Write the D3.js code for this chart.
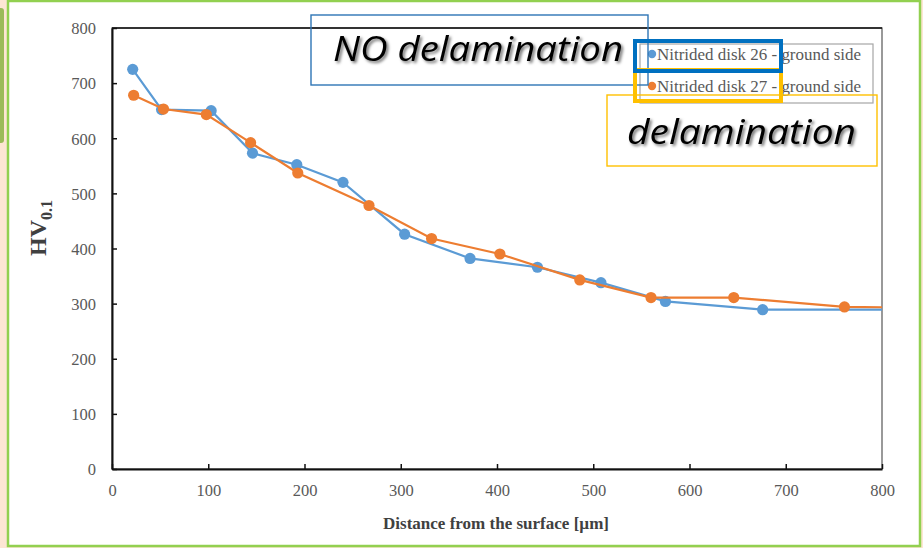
<!DOCTYPE html>
<html>
<head>
<meta charset="utf-8">
<script src="https://cdn.jsdelivr.net/npm/d3@7/dist/d3.min.js"></script>
<style>
  html, body { margin: 0; padding: 0; background: #fde6d4; }
  svg { display: block; }
</style>
</head>
<body>
<svg id="chart" width="923" height="548"></svg>
<script>
// Micro-hardness profiles (HV0.1) versus depth below the surface
const depth26 = [21.5, 51.5, 103, 146, 192, 240, 304, 372, 442, 508, 575, 676, 830];
const hv26    = [725, 652, 650, 573, 552, 520, 426, 382, 366, 338, 304, 289, 289];
const depth27 = [22.5, 53.5, 98, 144, 193, 267, 332, 403, 486, 560, 646, 761, 830];
const hv27    = [678, 653, 643, 592, 537, 478, 418, 390, 343, 311, 311, 294, 293];
const seriesNames = ["Nitrided disk 26 - ground side", "Nitrided disk 27 - ground side"];
const xTicks = [0, 100, 200, 300, 400, 500, 600, 700, 800];
const yTicks = [0, 100, 200, 300, 400, 500, 600, 700, 800];

const svg = d3.select("#chart");
const colors = ["#5b9bd5", "#ed7d31"];

// Slide panel
svg.append("rect").attr("x", 8).attr("y", 1).attr("width", 912).attr("height", 545)
  .attr("fill", "#ffffff").attr("stroke", "#92d050").attr("stroke-width", 2.5);
svg.append("rect").attr("x", -4).attr("y", 8).attr("width", 8).attr("height", 135)
  .attr("rx", 3).attr("fill", "#9bbb59");

const plot = { left: 112, right: 882, top: 28, bottom: 469 };
const x = d3.scaleLinear().domain([0, 800]).range([plot.left, plot.right]);
const y = d3.scaleLinear().domain([0, 800]).range([plot.bottom, plot.top]);

const defs = svg.append("defs");
defs.append("clipPath").attr("id", "plotClip").append("rect")
  .attr("x", plot.left).attr("y", plot.top - 10)
  .attr("width", plot.right - plot.left).attr("height", plot.bottom - plot.top + 10);
const shadow = defs.append("filter").attr("id", "txtShadow")
  .attr("x", "-10%").attr("y", "-20%").attr("width", "120%").attr("height", "150%");
shadow.append("feDropShadow").attr("dx", 2).attr("dy", 2).attr("stdDeviation", 1.5)
  .attr("flood-color", "#000").attr("flood-opacity", 0.55);

// Plot frame
svg.append("rect").attr("x", plot.left).attr("y", plot.top)
  .attr("width", plot.right - plot.left).attr("height", plot.bottom - plot.top)
  .attr("fill", "none").attr("stroke", "#555").attr("stroke-width", 1.2);
svg.append("line").attr("x1", plot.left).attr("x2", plot.right)
  .attr("y1", plot.top).attr("y2", plot.top).attr("stroke", "#111").attr("stroke-width", 1.6);

// Axes with inward ticks
const gx = svg.append("g").attr("transform", `translate(0,${plot.bottom})`)
  .call(d3.axisBottom(x).tickValues(xTicks).tickSizeInner(-5).tickSizeOuter(0).tickPadding(15));
const gy = svg.append("g").attr("transform", `translate(${plot.left},0)`)
  .call(d3.axisLeft(y).tickValues(yTicks).tickSizeInner(-5).tickSizeOuter(0).tickPadding(16));
[gx, gy].forEach(g => {
  g.select(".domain").attr("stroke", "#111").attr("stroke-width", 2);
  g.selectAll(".tick line").attr("stroke", "#111").attr("stroke-width", 1.5);
  g.selectAll(".tick text").attr("fill", "#595959")
    .style("font-family", "'Liberation Serif', 'Times New Roman', serif").style("font-size", "16.5px");
});
gy.selectAll(".tick text").attr("dy", "0.35em");

// Axis titles
svg.append("text").attr("x", 496).attr("y", 529).attr("text-anchor", "middle")
  .attr("fill", "#404040").style("font-family", "'Liberation Serif', serif")
  .style("font-weight", "bold").style("font-size", "16px")
  .attr("textLength", 226).attr("lengthAdjust", "spacingAndGlyphs")
  .text("Distance from the surface [µm]");
const yt = svg.append("text").attr("transform", "translate(46,228) rotate(-90)")
  .attr("text-anchor", "middle").attr("fill", "#404040")
  .style("font-family", "'Liberation Serif', serif").style("font-weight", "bold").style("font-size", "24px");
yt.append("tspan").text("HV");
yt.append("tspan").attr("dy", 6).style("font-size", "16px").text("0.1");

// Series lines and markers
const series = [
  depth26.map((d, i) => ({ d, v: hv26[i], last: i === depth26.length - 1 })),
  depth27.map((d, i) => ({ d, v: hv27[i], last: i === depth27.length - 1 }))
];
const line = d3.line().x(p => x(p.d)).y(p => y(p.v));
const gData = svg.append("g").attr("clip-path", "url(#plotClip)");
series.forEach((s, k) => {
  gData.append("path").datum(s).attr("d", line).attr("fill", "none")
    .attr("stroke", colors[k]).attr("stroke-width", 2.2);
  gData.selectAll(null).data(s.filter(p => !p.last)).enter().append("circle")
    .attr("cx", p => x(p.d)).attr("cy", p => y(p.v)).attr("r", 5.6).attr("fill", colors[k]);
});

// Legend
const lg = svg.append("g");
lg.append("rect").attr("x", 640).attr("y", 44).attr("width", 233).attr("height", 59)
  .attr("fill", "#fff").attr("stroke", "#a6a6a6").attr("stroke-width", 1.2);
seriesNames.forEach((name, k) => {
  const cy = 54 + k * 32;
  lg.append("circle").attr("cx", 652).attr("cy", cy).attr("r", 4.2).attr("fill", colors[k]);
  lg.append("text").attr("x", 657).attr("y", cy).attr("dy", "0.35em").attr("fill", "#595959")
    .style("font-family", "'Liberation Serif', serif").style("font-size", "16.5px")
    .attr("textLength", 204).attr("lengthAdjust", "spacingAndGlyphs").text(name);
});

// Annotation boxes
const note = svg.append("g");
note.append("rect").attr("x", 311).attr("y", 15).attr("width", 337).attr("height", 70)
  .attr("fill", "none").attr("stroke", "#2e75b6").attr("stroke-width", 1.4);
note.append("text").attr("x", 333).attr("y", 61)
  .attr("fill", "#000").attr("filter", "url(#txtShadow)")
  .style("font-family", "'Open Sans', sans-serif").style("font-style", "italic").style("font-size", "34px")
  .attr("textLength", 290).attr("lengthAdjust", "spacingAndGlyphs")
  .text("NO delamination");
note.append("rect").attr("x", 607).attr("y", 95).attr("width", 270).attr("height", 71)
  .attr("fill", "none").attr("stroke", "#ffc000").attr("stroke-width", 1.4);
note.append("text").attr("x", 627).attr("y", 144)
  .attr("fill", "#000").attr("filter", "url(#txtShadow)")
  .style("font-family", "'Open Sans', sans-serif").style("font-style", "italic").style("font-size", "34px")
  .attr("textLength", 229).attr("lengthAdjust", "spacingAndGlyphs")
  .text("delamination");
note.append("rect").attr("x", 635).attr("y", 70).attr("width", 146).attr("height", 31)
  .attr("fill", "none").attr("stroke", "#ffc000").attr("stroke-width", 4);
note.append("rect").attr("x", 635).attr("y", 41).attr("width", 146).attr("height", 30)
  .attr("fill", "none").attr("stroke", "#0070c0").attr("stroke-width", 4);
</script>
</body>
</html>
